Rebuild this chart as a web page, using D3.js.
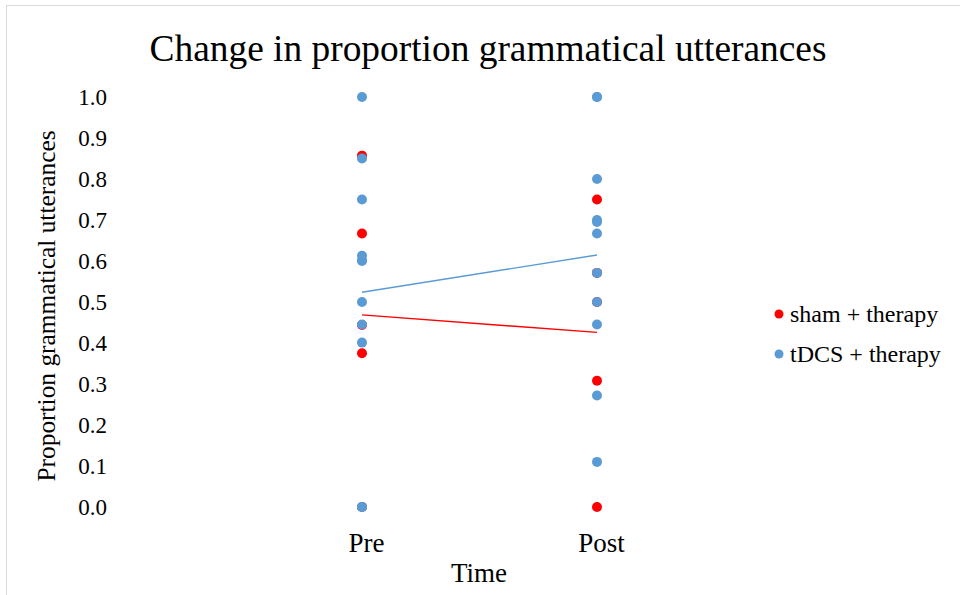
<!DOCTYPE html>
<html>
<head>
<meta charset="utf-8">
<script src="https://cdn.jsdelivr.net/npm/d3@7"></script>
<style>
  body { margin: 0; background: #fff; }
  svg { display: block; font-family: "Liberation Serif", "Times New Roman", serif; }
</style>
</head>
<body>
<svg></svg>
<script>
const width = 960;
const height = 595;

const times = ["Pre", "Post"];
const yTicks = [0, 0.1, 0.2, 0.3, 0.4, 0.5, 0.6, 0.7, 0.8, 0.9, 1.0];

// values, some hidden under other dots
const shamPre = [0.857, 0.667, 0.444, 0.375, 0];
const shamPost = [0.75, 0.571, 0.5, 0.308, 0];
const tdcsPre = [1.0, 0.85, 0.75, 0.613, 0.602, 0.6, 0.5, 0.445, 0.401, 0, 0];
const tdcsPost = [1.0, 1.0, 0.8, 0.7, 0.695, 0.667, 0.571, 0.5, 0.445, 0.272, 0.11];

const series = [
    { name: "sham + therapy", color: "#ff0000", pre: shamPre, post: shamPost },
    { name: "tDCS + therapy", color: "#5b9bd5", pre: tdcsPre, post: tdcsPost }
];

const svg = d3.select("svg")
    .attr("width", width)
    .attr("height", height);

// chart border
svg.append("rect")
    .attr("x", 6.5)
    .attr("y", 5.5)
    .attr("width", width)
    .attr("height", height)
    .attr("fill", "none")
    .attr("stroke", "#d9d9d9");

const x = d3.scalePoint()
    .domain(times)
    .range([362, 597]);

const y = d3.scaleLinear()
    .domain([0, 1])
    .range([507, 97]);

svg.append("text")
    .attr("x", 488)
    .attr("y", 61)
    .attr("text-anchor", "middle")
    .attr("font-size", 37.4)
    .text("Change in proportion grammatical utterances");

// y axis labels only, no line
const yAxis = svg.append("g")
    .attr("transform", "translate(107,0)")
    .call(d3.axisLeft(y).tickValues(yTicks).tickFormat(d3.format(".1f")).tickSize(0).tickPadding(0));
yAxis.select(".domain").remove();
yAxis.selectAll("text")
    .attr("font-family", "Liberation Serif, serif")
    .attr("font-size", 23)
    .attr("fill", "#000");

const xAxis = svg.append("g")
    .attr("transform", "translate(4,533)")
    .call(d3.axisBottom(x).tickSize(0).tickPadding(0));
xAxis.select(".domain").remove();
xAxis.selectAll("text")
    .attr("font-family", "Liberation Serif, serif")
    .attr("font-size", 27)
    .attr("fill", "#000");

svg.append("text")
    .attr("x", 479)
    .attr("y", 582)
    .attr("text-anchor", "middle")
    .attr("font-size", 27)
    .text("Time");

svg.append("text")
    .attr("transform", "translate(55,306) rotate(-90)")
    .attr("text-anchor", "middle")
    .attr("font-size", 25.4)
    .text("Proportion grammatical utterances");

// mean lines
series.forEach(s => {
    svg.append("line")
        .attr("x1", x("Pre"))
        .attr("y1", y(d3.mean(s.pre)))
        .attr("x2", x("Post"))
        .attr("y2", y(d3.mean(s.post)))
        .attr("stroke", s.color)
        .attr("stroke-width", 1.4);
});

// dots
series.forEach(s => {
    const pts = s.pre.map(v => ({ t: "Pre", v }))
        .concat(s.post.map(v => ({ t: "Post", v })));
    svg.append("g")
        .selectAll("circle")
        .data(pts)
        .enter().append("circle")
        .attr("cx", d => x(d.t))
        .attr("cy", d => y(d.v))
        .attr("r", 5)
        .attr("fill", s.color);
});

// legend
const legend = svg.append("g")
    .selectAll("g")
    .data(series)
    .enter().append("g")
    .attr("transform", (d, i) => `translate(779,${314 + i * 40})`);

legend.append("circle")
    .attr("r", 4.5)
    .attr("fill", d => d.color);

legend.append("text")
    .attr("x", 11)
    .attr("y", 8)
    .attr("font-size", 24)
    .text(d => d.name);
</script>
</body>
</html>
